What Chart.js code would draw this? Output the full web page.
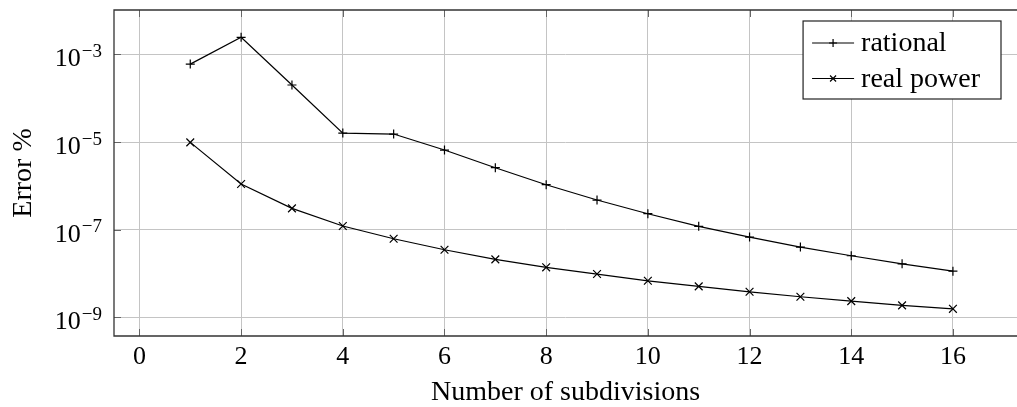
<!DOCTYPE html>
<html><head><meta charset="utf-8">
<script src="https://cdn.jsdelivr.net/npm/chart.js@4/dist/chart.umd.min.js"></script>
<style>html,body{margin:0;padding:0;background:#fff;overflow:hidden;}</style>
</head><body>
<canvas id="c" width="1017" height="407" style="display:block;width:1017px;height:407px"></canvas>
<script>
const subdivisions = [1,2,3,4,5,6,7,8,9,10,11,12,13,14,15,16];
const rationalError = [6.0e-4, 2.45e-3, 2.0e-4, 1.6e-5, 1.52e-5, 6.56e-6, 2.59e-6, 1.06e-6, 4.74e-7, 2.31e-7, 1.19e-7, 6.78e-8, 4.0e-8, 2.54e-8, 1.66e-8, 1.13e-8];
const realPowerError = [9.8e-6, 1.1e-6, 3.06e-7, 1.21e-7, 6.2e-8, 3.48e-8, 2.1e-8, 1.38e-8, 9.7e-9, 6.8e-9, 5.07e-9, 3.82e-9, 2.94e-9, 2.34e-9, 1.87e-9, 1.56e-9];
const xTickValues = [0,2,4,6,8,10,12,14,16];
const yTickValues = [1e-3, 1e-5, 1e-7, 1e-9];
const seriesNames = ['rational', 'real power'];
const xTitle = 'Number of subdivisions';
const yTitle = 'Error %';

const SERIF = '"Liberation Serif", "Times New Roman", serif';

const toPoints = (xs, ys) => xs.map((x, i) => ({x: x, y: ys[i]}));

const frame = {
  id: 'frame',
  afterDatasetsDraw(chart) {
    const {ctx, chartArea: a, scales} = chart;
    ctx.save();
    ctx.strokeStyle = '#666';
    ctx.lineWidth = 1;
    const tl = 7;
    ctx.beginPath();
    xTickValues.forEach(v => {
      const px = Math.round(scales.x.getPixelForValue(v)) + 0.5;
      ctx.moveTo(px, a.bottom); ctx.lineTo(px, a.bottom - tl);
      ctx.moveTo(px, a.top); ctx.lineTo(px, a.top + tl);
    });
    yTickValues.forEach(v => {
      const py = Math.round(scales.y.getPixelForValue(v)) + 0.5;
      ctx.moveTo(a.left, py); ctx.lineTo(a.left + tl, py);
    });
    ctx.stroke();
    ctx.strokeStyle = '#333';
    ctx.lineWidth = 1.3;
    ctx.beginPath();
    ctx.moveTo(chart.width, a.top); ctx.lineTo(a.left, a.top);
    ctx.lineTo(a.left, a.bottom); ctx.lineTo(chart.width, a.bottom);
    ctx.stroke();
    ctx.restore();
  },
  afterDraw(chart) {
    const {ctx, chartArea: a, scales} = chart;
    ctx.save();
    ctx.fillStyle = '#000';
    ctx.textBaseline = 'alphabetic';
    yTickValues.forEach(v => {
      const py = scales.y.getPixelForValue(v);
      const e = Math.round(Math.log10(v));
      const expTxt = (e < 0 ? '\u2212' : '') + Math.abs(e);
      ctx.font = '19px ' + SERIF;
      const ew = ctx.measureText(expTxt).width;
      ctx.font = '26px ' + SERIF;
      const bw = ctx.measureText('10').width;
      const right = a.left - 12;
      ctx.textAlign = 'left';
      ctx.fillText('10', right - ew - bw - 1, py + 12);
      ctx.font = '19px ' + SERIF;
      ctx.fillText(expTxt, right - ew, py + 2.5);
    });
    const ds = chart.data.datasets;
    ctx.font = '28px ' + SERIF;
    let tw = 0;
    ds.forEach(d => { tw = Math.max(tw, ctx.measureText(d.label).width); });
    const padL = 9, lineLen = 42, gap = 7, padR = 21, rowH = 35.5;
    const w = padL + lineLen + gap + tw + padR;
    const h = 78;
    const bx = chart.width - 16 - w, by = a.top + 11;
    ctx.fillStyle = '#fff';
    ctx.fillRect(bx, by, w, h);
    ctx.strokeStyle = '#222';
    ctx.lineWidth = 1.2;
    ctx.strokeRect(bx, by, w, h);
    ds.forEach((d, i) => {
      const cy = by + 22 + i * rowH;
      ctx.strokeStyle = '#000';
      ctx.lineWidth = 1.2;
      ctx.beginPath();
      ctx.moveTo(bx + padL, cy); ctx.lineTo(bx + padL + lineLen, cy);
      ctx.stroke();
      const mx = bx + padL + lineLen / 2;
      const r = 4;
      ctx.beginPath();
      if (d.pointStyle === 'cross') {
        ctx.moveTo(mx - r, cy); ctx.lineTo(mx + r, cy);
        ctx.moveTo(mx, cy - r); ctx.lineTo(mx, cy + r);
      } else {
        const q = 3;
        ctx.moveTo(mx - q, cy - q); ctx.lineTo(mx + q, cy + q);
        ctx.moveTo(mx - q, cy + q); ctx.lineTo(mx + q, cy - q);
      }
      ctx.stroke();
      ctx.fillStyle = '#000';
      ctx.font = '28px ' + SERIF;
      ctx.textAlign = 'left';
      ctx.textBaseline = 'alphabetic';
      ctx.fillText(d.label, bx + padL + lineLen + gap, cy + 8);
    });
    ctx.restore();
  }
};

new Chart(document.getElementById('c'), {
  type: 'line',
  data: {
    datasets: [
      {
        label: seriesNames[0],
        data: toPoints(subdivisions, rationalError),
        borderColor: '#000', backgroundColor: '#000',
        borderWidth: 1.2, pointStyle: 'cross', pointRadius: 4.5,
        pointBorderColor: '#000', pointBorderWidth: 1.2, tension: 0, fill: false
      },
      {
        label: seriesNames[1],
        data: toPoints(subdivisions, realPowerError),
        borderColor: '#000', backgroundColor: '#000',
        borderWidth: 1.2, pointStyle: 'crossRot', pointRadius: 5.5,
        pointBorderColor: '#000', pointBorderWidth: 1.2, tension: 0, fill: false
      }
    ]
  },
  options: {
    responsive: false,
    animation: false,
    devicePixelRatio: 1,
    layout: {autoPadding: false, padding: {top: 10, right: 0, left: 0, bottom: 0}},
    plugins: {legend: {display: false}, tooltip: {enabled: false}},
    scales: {
      x: {
        type: 'linear',
        min: -0.5, max: 17.26,
        afterBuildTicks: s => { s.ticks = xTickValues.map(v => ({value: v})); },
        afterFit: s => { s.height = 71; s.paddingLeft = 0; s.paddingRight = 0; },
        grid: {color: '#c4c4c4', lineWidth: 1, drawTicks: false, tickLength: 0},
        border: {display: false},
        ticks: {
          color: '#000', padding: 6,
          font: {family: SERIF, size: 26},
          maxRotation: 0, autoSkip: false,
          callback: v => String(v)
        },
        title: {
          display: true, text: xTitle, color: '#000',
          font: {family: SERIF, size: 28, lineHeight: 1},
          padding: {top: 0, bottom: 0}
        }
      },
      y: {
        type: 'logarithmic',
        min: 3.74e-10, max: 1.03e-2,
        afterBuildTicks: s => { s.ticks = yTickValues.map(v => ({value: v})); },
        afterFit: s => { s.width = 114; s.paddingTop = 0; s.paddingBottom = 0; },
        grid: {color: '#c4c4c4', lineWidth: 1, drawTicks: false, tickLength: 0},
        border: {display: false},
        ticks: {display: false},
        title: {
          display: true, text: yTitle, color: '#000',
          font: {family: SERIF, size: 28, lineHeight: 1},
          padding: {top: 10, bottom: 0}
        }
      }
    }
  },
  plugins: [frame]
});
</script>
</body></html>
